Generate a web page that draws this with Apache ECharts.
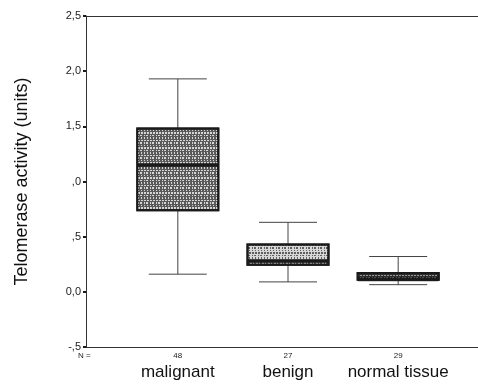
<!DOCTYPE html>
<html>
<head>
<meta charset="utf-8">
<script src="https://cdn.jsdelivr.net/npm/echarts@6/dist/echarts.min.js"></script>
<style>
  html, body { margin: 0; padding: 0; background: #fff; }
  #chart { width: 478px; height: 384px; }
</style>
</head>
<body>
<div id="chart"></div>
<script>
const categories = ['malignant', 'benign', 'normal tissue'];
const counts = [48, 27, 29];
// [min, Q1, median, Q3, max]
const boxValues = [
  [0.16, 0.74, 1.15, 1.48, 1.93],
  [0.09, 0.245, 0.28, 0.43, 0.63],
  [0.065, 0.11, 0.115, 0.17, 0.32]
];
const boxColors = ['#5a5a5a', '#d6d6d6', '#2e2e2e'];
const speckColors = ['rgba(255,255,255,0.75)', 'rgba(0,0,0,0.55)', 'rgba(255,255,255,0.5)'];
const yTickLabels = ['-,5', '0,0', ',5', ',0', '1,5', '2,0', '2,5'];

// the boxes sit on every third slot of a wider category axis
const slotCount = 11;
const slotOf = [2, 5, 8];
const slots = Array.from({ length: slotCount }, (_, i) => {
  const k = slotOf.indexOf(i);
  return k < 0 ? '' : k;
});
const isBox = i => slots[i] !== '';

const fontFamily = '"Liberation Sans", Arial, sans-serif';
const ink = '#1a1a1a';

const whiskerData = slots.map(k => k === '' ? '-' : boxValues[k]);
const boxData = slots.map(k => {
  if (k === '') return '-';
  const v = boxValues[k];
  return {
    value: [v[1], v[1], v[2], v[3], v[3]],
    itemStyle: {
      color: boxColors[k],
      decal: {
        symbol: 'rect',
        symbolSize: 1,
        dashArrayX: [[1, 2], [2, 1], [1, 1, 2, 2]],
        dashArrayY: [1, 1, 2, 1],
        rotation: 0,
        color: speckColors[k]
      }
    }
  };
});
const medianData = slots.map(k => k === '' ? '-' : boxValues[k][2]);

const chart = echarts.init(document.getElementById('chart'), null, { renderer: 'canvas' });
const xBase = {
  type: 'category',
  data: slots.map(String),
  boundaryGap: true
};
chart.setOption({
  animation: false,
  backgroundColor: '#fff',
  grid: { left: 86, top: 16, width: 404, bottom: 37, outerBoundsMode: 'none', containLabel: false },
  xAxis: [
    Object.assign({}, xBase, {
      position: 'bottom',
      axisLine: { onZero: false, lineStyle: { color: '#333', width: 1 } },
      axisTick: {
        alignWithLabel: true,
        interval: i => isBox(i),
        length: 3,
        lineStyle: { color: ink, width: 2 }
      },
      axisLabel: {
        interval: 0,
        margin: 3,
        formatter: (v, i) => isBox(i) ? '{n|' + counts[slots[i]] + '}\n{c|' + categories[slots[i]] + '}' : '',
        rich: {
          n: { fontSize: 8, lineHeight: 12, color: '#222', fontFamily },
          c: { fontSize: 17, lineHeight: 20, color: '#111', fontFamily }
        }
      },
      splitLine: { show: false }
    }),
    Object.assign({}, xBase, {
      position: 'top',
      axisLine: { onZero: false, lineStyle: { color: '#333', width: 1 } },
      axisTick: { show: false },
      axisLabel: { show: false },
      splitLine: { show: false }
    })
  ],
  yAxis: {
    type: 'value',
    min: -0.5,
    max: 2.5,
    interval: 0.5,
    name: 'Telomerase activity (units)',
    nameLocation: 'middle',
    nameGap: 55,
    nameTextStyle: { fontSize: 18, color: '#111', fontFamily },
    axisLine: { show: true, lineStyle: { color: '#333', width: 1 } },
    axisTick: { show: true, length: 3, lineStyle: { color: ink, width: 2 } },
    axisLabel: {
      margin: 5,
      fontSize: 11,
      color: '#222',
      fontFamily,
      formatter: (v) => yTickLabels[Math.round((v + 0.5) / 0.5)]
    },
    splitLine: { show: false }
  },
  graphic: [{
    type: 'text',
    left: 78,
    top: 352,
    style: { text: 'N =', fontSize: 8, fill: '#222', fontFamily }
  }],
  series: [
    {
      type: 'boxplot',
      xAxisIndex: 0,
      boxWidth: [58, 58],
      data: whiskerData,
      itemStyle: { color: '#fff', borderColor: '#444', borderWidth: 1 },
      silent: true,
      z: 2
    },
    {
      type: 'boxplot',
      xAxisIndex: 1,
      boxWidth: [81, 81],
      data: boxData,
      itemStyle: { borderColor: ink, borderWidth: 2 },
      silent: true,
      z: 3
    },
    {
      type: 'scatter',
      xAxisIndex: 0,
      symbol: 'rect',
      symbolSize: [80, 4],
      data: medianData,
      itemStyle: { color: ink },
      silent: true,
      z: 4
    }
  ]
});
</script>
</body>
</html>
